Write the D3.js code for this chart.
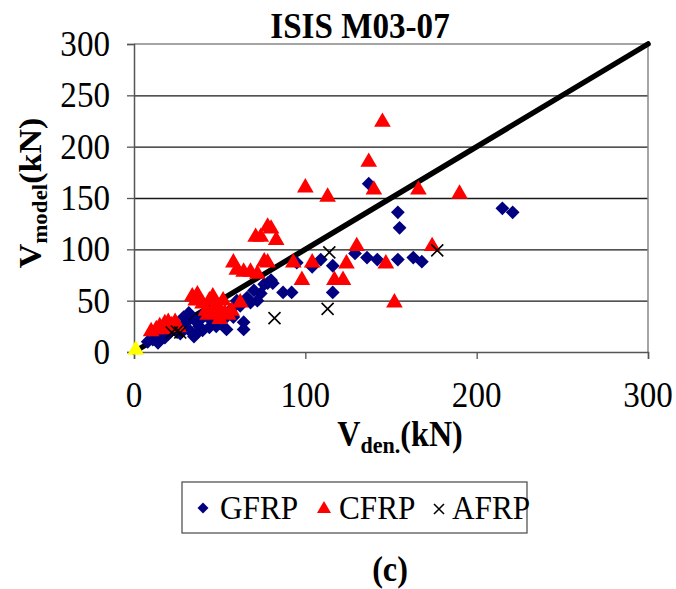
<!DOCTYPE html>
<html>
<head>
<meta charset="utf-8">
<script src="https://cdn.jsdelivr.net/npm/d3@7"></script>
<style>
  html, body { margin: 0; padding: 0; background: #fff; }
  svg { display: block; font-family: "Liberation Serif", "Times New Roman", serif; }
</style>
</head>
<body>
<svg id="chart" width="676" height="589"></svg>
<script>
// Shear strength: model prediction vs. test value (kN)
const gfrp = [
  [8,10],[11,12],[14,9],[15,15],[18,14],[20,18],[22,21],[25,24],[27,18],[29,34],
  [30,28],[32,38],[33,20],[35,15],[36,30],[37,19],[38,25],[39,32],[40,21],[41,38],
  [43,34],[44,24],[46,30],[48,25],[50,28],[52,31],[54,22],[55,38],[57,42],[58,34],
  [60,50],[62,45],[64,29],[64,22],[66,53],[68,48],[70,60],[72,50],[74,57],[76,66],
  [78,67],[80,70],[81,67],[87,58],[92,58],[95,87],[104,83],[109,90],[116,84],[116,58],
  [129,96],[136,92],[142,90],[154,90],[163,92],[168,88],[154,136],[155,121],[137,164],
  [215,140],[221,136]
];
const cfrp = [
  [10,20],[13,22],[15,25],[17,22],[18,28],[20,29],[22,26],[24,29],[26,24],[34,54],
  [36,50],[37,56],[40,47],[42,40],[43,36],[44,50],[46,54],[47,44],[48,38],[49,44],
  [50,32],[52,50],[53,38],[55,36],[57,40],[58,87],[60,80],[62,48],[64,78],[68,78],
  [71,112],[72,76],[74,112],[76,88],[78,122],[78,87],[80,120],[83,109],[93,87],[98,70],
  [100,160],[104,87],[113,151],[117,70],[122,70],[124,86],[130,103],[137,185],[140,158],
  [145,224],[147,86],[152,48],[166,158],[174,103],[190,154]
];
const afrp = [[22,19],[25,20],[27,19],[82,33],[113,42],[114,97],[177,99]];
const origin = [[1,2]];
const equality = [[0,0],[300,300]];
const xTicks = [0,100,200,300];
const yTicks = [0,50,100,150,200,250,300];
const legendItems = ["GFRP","CFRP","AFRP"];

const svg = d3.select("#chart");
const x = d3.scaleLinear().domain([0,300]).range([134,648]);
const y = d3.scaleLinear().domain([0,300]).range([352,44]);
const SX = 0.92; // narrow glyph proportion

function label(g, px, py, anchor, size, weight) {
  return g.append("text")
    .attr("transform", `translate(${px},${py}) scale(${SX},1)`)
    .attr("text-anchor", anchor)
    .attr("font-size", size)
    .attr("font-weight", weight || "normal")
    .attr("fill", "#000");
}

// horizontal gridlines across the plot
const grid = svg.append("g").attr("transform", `translate(${x(0)},0)`)
  .call(d3.axisLeft(y).tickValues(yTicks.slice(1, -1)).tickSize(-(x(300) - x(0))).tickFormat(""));
grid.select(".domain").remove();
grid.selectAll(".tick line").attr("stroke", "#1a1a1a").attr("stroke-width", 1.3);

// plot frame (top and right edges)
const frame = svg.append("g").attr("fill", "none").attr("stroke", "#888").attr("stroke-width", 1.5);
frame.append("path").attr("d", d3.line()([[x(0), y(300)], [x(300), y(300)], [x(300), y(0)]]));

// axes
const yAxis = svg.append("g").attr("transform", `translate(${x(0)},0)`)
  .call(d3.axisLeft(y).tickValues(yTicks).tickSize(7).tickFormat(""));
const xAxis = svg.append("g").attr("transform", `translate(0,${y(0)})`)
  .call(d3.axisBottom(x).tickValues(xTicks).tickSize(7).tickFormat(""));
[xAxis, yAxis].forEach(a => {
  a.select(".domain").attr("stroke", "#555").attr("stroke-width", 1.5);
  a.selectAll(".tick line").attr("stroke", "#555").attr("stroke-width", 1.3);
});

// tick labels
yTicks.forEach(t => label(svg, 110, y(t) + 12, "end", 36).text(t));
xTicks.forEach(t => label(svg, x(t), 407, "middle", 36).text(t));

// 1:1 line
svg.append("path")
  .attr("d", d3.line().x(d => x(d[0])).y(d => y(d[1]))(equality))
  .attr("stroke", "#000").attr("stroke-width", 5.5).attr("fill", "none")
  .attr("stroke-linecap", "round");

const diamond = d3.symbol().type(d3.symbolSquare).size(95)();
const triangle = d3.symbol().type(d3.symbolTriangle).size(120)();

// GFRP
svg.append("g").selectAll("path").data(gfrp).join("path")
  .attr("d", diamond)
  .attr("transform", d => `translate(${x(d[0])},${y(d[1])}) rotate(45)`)
  .attr("fill", "#000080");

// CFRP
svg.append("g").selectAll("path").data(cfrp).join("path")
  .attr("d", triangle)
  .attr("transform", d => `translate(${x(d[0])},${y(d[1])})`)
  .attr("fill", "#ff0000");

// AFRP
const cross = "M-6,-6L6,6M-6,6L6,-6";
svg.append("g").selectAll("path").data(afrp).join("path")
  .attr("d", cross)
  .attr("transform", d => `translate(${x(d[0])},${y(d[1])})`)
  .attr("stroke", "#000").attr("stroke-width", 1.6).attr("fill", "none");

// origin marker
svg.append("g").selectAll("path").data(origin).join("path")
  .attr("d", triangle)
  .attr("transform", d => `translate(${x(d[0])},${y(d[1])})`)
  .attr("fill", "#ffff00");

// title
label(svg, 360, 38, "middle", 36, "bold").text("ISIS M03-07");

// x axis title
const xt = label(svg, 400, 446, "middle", 35, "bold");
xt.append("tspan").text("V");
xt.append("tspan").attr("font-size", 24).attr("dy", 7).text("den.");
xt.append("tspan").attr("dy", -7).text("(kN)");

// y axis title
const yt = svg.append("text")
  .attr("transform", `translate(41,193) rotate(-90) scale(1,${SX})`)
  .attr("text-anchor", "middle").attr("font-size", 34).attr("font-weight", "bold");
yt.append("tspan").text("V");
yt.append("tspan").attr("font-size", 23).attr("dy", 7).text("model");
yt.append("tspan").attr("dy", -7).text("(kN)");

// legend
svg.append("rect").attr("x", 182).attr("y", 482).attr("width", 345).attr("height", 51)
  .attr("fill", "#fff").attr("stroke", "#555").attr("stroke-width", 1.3);
const lg = svg.append("g");
lg.append("path").attr("d", d3.symbol().type(d3.symbolSquare).size(60)())
  .attr("transform", "translate(203,508) rotate(45)").attr("fill", "#000080");
lg.append("path").attr("d", d3.symbol().type(d3.symbolTriangle).size(85)())
  .attr("transform", "translate(324,509)").attr("fill", "#ff0000");
lg.append("path").attr("d", "M-5,-5L5,5M-5,5L5,-5")
  .attr("transform", "translate(439,509)").attr("stroke", "#000").attr("stroke-width", 1.5);
[[220, legendItems[0]], [339, legendItems[1]], [452, legendItems[2]]].forEach(([px, t]) =>
  label(lg, px, 519, "start", 34).text(t));

// panel tag
label(svg, 390, 581, "middle", 35, "bold").text("(c)");
</script>
</body>
</html>
